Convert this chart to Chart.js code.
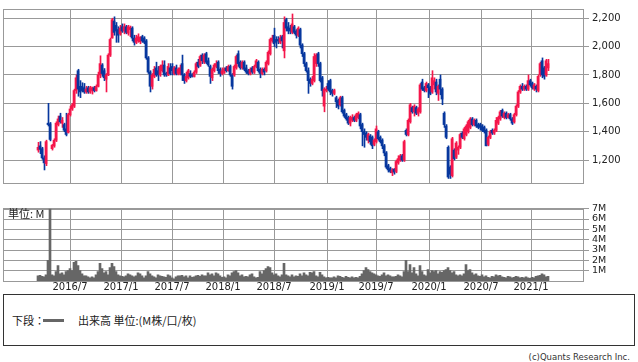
<!DOCTYPE html>
<html lang="ja">
<head>
<meta charset="utf-8">
<title>株価チャート</title>
<script src="https://cdn.jsdelivr.net/npm/chart.js@4.4.1/dist/chart.umd.min.js"></script>
<style>
  html, body { margin: 0; padding: 0; background: #fff; }
  body { width: 638px; height: 362px; position: relative; overflow: hidden; }
  #priceChart { position: absolute; left: 0; top: 0; }
  #volumeChart { position: absolute; left: 0; top: 200px; }
  #legendBox { position: absolute; left: 3px; top: 294px; width: 632px; height: 52px; box-sizing: border-box;
    border: 1px solid #333; font: 11px "Noto Sans CJK JP", sans-serif; color: #222; }
  #legendBox span { position: absolute; top: 17px; line-height: 16px; white-space: nowrap; }
  #legendLine { position: absolute; left: 39px; top: 24px; width: 21px; height: 3px; background: #666; }
  #copyright { position: absolute; right: 8px; top: 351px; font: 8.5px "DejaVu Sans", sans-serif; color: #333; line-height: 12px; }
</style>
</head>
<body>
<canvas id="priceChart" width="638" height="192"></canvas>
<canvas id="volumeChart" width="638" height="94"></canvas>
<div id="legendBox">
  <span style="left:8px">下段：</span>
  <div id="legendLine"></div>
  <span style="left:74px">出来高 単位:(M株/口/枚)</span>
</div>
<div id="copyright">(c)Quants Research Inc.</div>

<script>
// 週足 (2016/3 〜 2021/2)
const openP = [
  1270,1300,1280,1215,1175,1460,1455,1280,1300,1340,
  1450,1510,1460,1450,1420,1395,1520,1560,1580,1690,
  1830,1720,1720,1710,1680,1710,1680,1690,1710,1690,
  1720,1800,1870,1830,1770,1800,1940,2060,2180,2150,
  2120,2090,2140,2110,2140,2095,2120,2130,2060,2030,
  2040,2035,2070,2060,2040,1920,1820,1720,1790,1850,
  1830,1800,1830,1870,1810,1800,1850,1860,1810,1850,
  1810,1810,1880,1800,1760,1780,1810,1800,1790,1820,
  1890,1870,1940,1890,1950,1900,1860,1780,1830,1860,
  1890,1840,1810,1820,1850,1830,1860,1800,1800,1850,
  1950,1890,1850,1890,1850,1830,1810,1850,1820,1860,
  1890,1840,1810,1840,1830,1880,1950,2040,2080,2050,
  2050,2030,2070,1970,2190,2140,2130,2100,2140,2110,
  2080,2120,2010,1950,1880,1830,1770,1740,1760,1880,
  1950,1880,1780,1580,1690,1740,1760,1690,1670,1640,
  1620,1590,1640,1550,1520,1500,1460,1480,1500,1480,
  1500,1520,1450,1400,1390,1340,1370,1360,1310,1330,
  1400,1360,1340,1300,1250,1160,1140,1110,1135,1120,
  1180,1200,1230,1200,1410,1380,1470,1570,1540,1570,
  1530,1540,1750,1710,1690,1730,1710,1680,1730,1750,
  1670,1770,1700,1530,1440,1290,1150,1090,1270,1220,
  1270,1290,1390,1350,1380,1400,1430,1490,1450,1480,
  1450,1450,1440,1430,1410,1310,1360,1410,1390,1410,
  1460,1490,1550,1500,1530,1500,1520,1490,1470,1520,
  1580,1680,1720,1700,1720,1700,1760,1740,1700,1720,
  1690,1800,1900,1850,1800,1850
];
const highP = [
  1325,1330,1290,1230,1340,1600,1465,1310,1350,1470,
  1510,1530,1500,1460,1530,1530,1580,1600,1700,1800,
  1840,1760,1745,1740,1720,1720,1720,1715,1720,1730,
  1820,1935,1880,1845,1810,1950,2060,2200,2210,2170,
  2140,2150,2160,2160,2150,2150,2145,2140,2080,2080,
  2090,2070,2080,2070,2050,1930,1830,1810,1860,1890,
  1860,1870,1900,1900,1820,1880,1880,1880,1860,1870,
  1850,1870,1940,1810,1820,1840,1830,1810,1830,1890,
  1910,1940,1950,1950,1960,1920,1870,1850,1880,1900,
  1900,1850,1850,1850,1860,1870,1870,1810,1870,1940,
  1970,1900,1900,1900,1870,1840,1850,1860,1870,1910,
  1900,1850,1850,1850,1900,1970,2060,2080,2130,2070,
  2070,2080,2080,2210,2200,2170,2150,2230,2150,2120,
  2140,2130,2020,1960,1890,1850,1780,1790,1950,1950,
  1960,1890,1790,1710,1720,1760,1770,1700,1700,1650,
  1630,1650,1650,1560,1530,1510,1510,1520,1510,1530,
  1540,1530,1460,1420,1400,1390,1380,1370,1350,1440,
  1410,1370,1350,1310,1260,1170,1150,1140,1140,1200,
  1230,1240,1240,1340,1420,1490,1600,1580,1590,1580,
  1570,1740,1770,1720,1750,1740,1720,1830,1780,1770,
  1730,1800,1710,1540,1450,1300,1160,1360,1280,1330,
  1300,1390,1400,1430,1450,1480,1500,1500,1490,1490,
  1460,1460,1450,1440,1420,1370,1410,1420,1420,1500,
  1510,1550,1560,1540,1540,1530,1530,1500,1530,1590,
  1690,1730,1740,1730,1730,1800,1770,1750,1740,1730,
  1800,1890,1920,1860,1910,1910
];
const lowP = [
  1255,1245,1205,1130,1160,1440,1335,1270,1290,1330,
  1440,1460,1430,1400,1370,1390,1510,1550,1570,1670,
  1650,1640,1680,1670,1670,1670,1670,1665,1680,1685,
  1715,1780,1790,1760,1680,1795,1930,2060,2080,2030,
  2030,2080,2100,2090,2090,2080,2070,2040,2010,2020,
  2030,2020,2030,2020,1910,1810,1680,1700,1780,1790,
  1760,1790,1820,1790,1790,1795,1800,1800,1800,1800,
  1800,1800,1760,1740,1750,1770,1780,1785,1785,1810,
  1850,1860,1880,1880,1880,1860,1740,1760,1820,1850,
  1810,1790,1800,1810,1820,1825,1790,1700,1790,1840,
  1860,1840,1840,1830,1810,1800,1800,1810,1810,1850,
  1820,1780,1800,1800,1820,1870,1940,2030,2000,1990,
  2020,2020,1990,1920,2110,2090,2090,2090,2090,2060,
  2070,1990,1930,1860,1820,1670,1720,1730,1750,1860,
  1860,1750,1650,1540,1680,1690,1660,1650,1660,1570,
  1560,1580,1530,1500,1480,1450,1440,1470,1470,1470,
  1490,1420,1300,1290,1340,1320,1310,1280,1300,1320,
  1340,1320,1280,1230,1140,1115,1110,1090,1100,1110,
  1170,1190,1190,1190,1370,1370,1460,1530,1510,1520,
  1510,1530,1690,1680,1680,1640,1660,1670,1700,1660,
  1620,1660,1590,1430,1350,1070,1070,1080,1200,1210,
  1240,1280,1350,1340,1370,1390,1420,1440,1440,1430,
  1420,1410,1400,1390,1300,1300,1350,1380,1380,1400,
  1450,1480,1500,1490,1490,1495,1480,1450,1460,1510,
  1570,1670,1690,1690,1690,1690,1720,1700,1690,1680,
  1680,1790,1780,1770,1790,1830
];
const closeP = [
  1290,1275,1215,1180,1330,1450,1345,1305,1340,1460,
  1490,1470,1480,1410,1380,1520,1560,1590,1690,1780,
  1700,1680,1690,1680,1700,1680,1710,1710,1690,1720,
  1800,1880,1810,1780,1800,1940,2050,2190,2100,2110,
  2080,2130,2110,2140,2100,2140,2135,2060,2030,2060,
  2070,2065,2040,2030,1920,1820,1720,1800,1840,1800,
  1800,1860,1870,1800,1800,1860,1810,1830,1850,1810,
  1840,1850,1800,1760,1790,1830,1790,1790,1820,1880,
  1860,1930,1900,1940,1890,1870,1790,1840,1870,1880,
  1830,1810,1830,1840,1830,1860,1800,1720,1860,1930,
  1880,1850,1890,1840,1820,1810,1840,1820,1860,1900,
  1830,1810,1840,1820,1890,1960,2050,2060,2020,2030,
  2040,2060,2040,2170,2130,2110,2110,2160,2100,2080,
  2130,2010,1950,1880,1830,1760,1740,1770,1930,1940,
  1880,1760,1690,1700,1700,1700,1680,1670,1690,1610,
  1580,1640,1540,1510,1490,1460,1500,1500,1480,1520,
  1530,1440,1400,1380,1360,1380,1330,1300,1340,1420,
  1350,1330,1300,1250,1150,1130,1120,1130,1115,1190,
  1210,1230,1200,1330,1380,1480,1590,1540,1580,1530,
  1560,1730,1700,1690,1740,1710,1670,1780,1760,1680,
  1720,1700,1630,1450,1360,1080,1100,1350,1210,1320,
  1290,1380,1360,1420,1440,1470,1490,1450,1480,1440,
  1430,1430,1410,1400,1300,1360,1400,1390,1410,1480,
  1500,1540,1510,1530,1500,1520,1490,1460,1520,1580,
  1680,1720,1700,1720,1700,1760,1730,1710,1730,1700,
  1790,1880,1800,1790,1900,1880
];
// 出来高 (M株)
const volume = [
  0.5,0.55,0.45,0.4,0.6,2.0,7.0,0.6,0.5,0.9,
  1.5,0.7,0.8,0.6,0.9,1.0,1.2,1.0,1.8,1.9,
  1.5,1.0,0.7,0.5,0.5,0.4,0.3,0.4,0.3,0.6,
  0.9,1.7,1.2,0.8,0.9,0.6,1.3,1.7,1.4,0.9,
  0.6,0.5,0.45,0.4,0.5,0.7,0.6,0.5,0.4,0.5,
  0.8,0.7,0.5,0.3,0.5,0.9,0.7,0.5,0.4,0.3,
  0.6,0.5,0.45,0.4,0.35,0.6,0.5,0.3,0.2,0.4,
  0.5,0.5,0.55,0.4,0.5,0.3,0.5,0.35,0.4,0.5,
  0.55,0.45,0.6,0.5,0.5,0.8,0.6,0.7,0.5,0.8,
  0.7,0.5,0.35,0.4,0.3,0.6,0.5,0.8,0.9,1.0,
  0.8,0.5,0.6,0.4,0.45,0.4,0.6,0.7,0.4,0.3,
  0.35,0.9,0.7,1.0,1.2,1.4,1.3,0.8,0.6,0.7,
  0.5,0.4,0.6,1.7,0.6,0.5,0.4,0.6,0.4,0.5,
  0.45,0.7,0.5,0.8,0.6,0.5,0.85,0.8,0.9,0.5,
  0.4,0.85,0.6,0.4,0.3,0.35,0.3,0.3,0.4,0.3,
  0.5,0.45,0.35,0.3,0.45,0.35,0.3,0.4,0.3,0.35,
  0.3,0.45,0.7,1.0,1.3,1.1,0.9,0.8,0.7,0.6,
  0.5,0.45,0.6,0.8,0.5,0.6,0.5,0.4,0.4,0.45,
  0.6,0.5,0.4,0.9,2.0,0.9,1.6,0.8,1.3,0.7,
  0.5,1.5,0.9,0.6,0.5,1.1,0.8,1.0,0.9,1.0,
  0.7,0.9,0.85,1.0,1.1,1.3,1.0,0.8,0.9,0.6,
  0.5,0.6,0.5,0.7,1.6,1.0,1.1,0.8,0.6,0.7,
  0.5,0.45,0.6,0.4,0.5,0.35,0.3,0.45,0.4,0.6,
  0.5,0.55,0.4,0.35,0.3,0.45,0.4,0.3,0.35,0.45,
  0.4,0.3,0.35,0.3,0.4,0.3,0.25,0.35,0.3,0.45,
  0.5,0.55,0.7,0.6,0.4,0.45
];

// 目盛り (週の番号で位置を指定)
const xTickPos = [16, 41.5, 67, 92.5, 118, 144.5, 169, 195.5, 221.5, 246.5];
const xTickLabels = ['2016/7', '2017/1', '2017/7', '2018/1', '2018/7', '2019/1', '2019/7', '2020/1', '2020/7', '2021/1'];
const priceTicks = [1200, 1400, 1600, 1800, 2000, 2200];
const volumeTicks = [1, 2, 3, 4, 5, 6, 7];

const UP = '#f5164b';
const DOWN = '#07379e';
const GRID = '#999999';
const VOL = '#666666';
const TEXT = '#222222';

const idx = closeP.map((_, i) => i);
const candleColors = closeP.map((c, i) => (c >= openP[i] ? UP : DOWN));

// プロット領域の枠線
const framePlugin = {
  id: 'frame',
  beforeDatasetsDraw(chart) {
    const a = chart.chartArea;
    const ctx = chart.ctx;
    const l = Math.round(a.left) + 0.5, t = Math.round(a.top) + 0.5;
    const r = Math.round(a.right) + 0.5, b = Math.round(a.bottom) + 0.5;
    ctx.save();
    ctx.strokeStyle = GRID;
    ctx.lineWidth = 1;
    ctx.strokeRect(l, t, r - l, b - t);
    ctx.restore();
  }
};

// 下段左上の「単位: M」
const unitLabelPlugin = {
  id: 'unitLabel',
  afterDraw(chart) {
    const a = chart.chartArea;
    const ctx = chart.ctx;
    ctx.save();
    ctx.font = '11px "Noto Sans CJK JP"';
    ctx.fillStyle = TEXT;
    ctx.textBaseline = 'middle';
    ctx.fillText('単位: M', a.left + 5, a.top + 5);
    ctx.restore();
  }
};

function xScale(showLabels) {
  return {
    type: 'linear',
    offset: false,
    min: -17.5,
    max: 272.5,
    afterBuildTicks: (axis) => { axis.ticks = xTickPos.map((v) => ({ value: v })); },
    afterFit: (axis) => { axis.height = showLabels ? 13 : 0; },
    grid: { color: GRID, drawTicks: false, offset: false },
    border: { display: false },
    ticks: {
      display: showLabels,
      autoSkip: false,
      maxRotation: 0,
      padding: 0,
      color: TEXT,
      font: { family: 'DejaVu Sans', size: 10 },
      callback: (v, i) => xTickLabels[i]
    }
  };
}

function yScale(min, max, tickValues, fontSize, fmt) {
  return {
    position: 'right',
    min: min,
    max: max,
    afterBuildTicks: (axis) => { axis.ticks = tickValues.map((v) => ({ value: v })); },
    afterFit: (axis) => { axis.width = 55; },
    grid: { color: GRID, tickLength: 6 },
    border: { display: false },
    ticks: { autoSkip: false, padding: 3, color: TEXT, font: { family: 'DejaVu Sans', size: fontSize }, callback: fmt }
  };
}

// 上段: ローソク足
new Chart(document.getElementById('priceChart'), {
  type: 'bar',
  data: {
    datasets: [
      {
        data: idx.map((i) => ({ x: i, y: [openP[i], closeP[i]] })),
        backgroundColor: candleColors,
        barThickness: 2,
        grouped: false
      },
      {
        data: idx.map((i) => ({ x: i, y: [lowP[i], highP[i]] })),
        backgroundColor: candleColors,
        barThickness: 1,
        grouped: false,
        xAxisID: 'xWick'
      }
    ]
  },
  options: {
    responsive: false,
    animation: false,
    layout: { padding: { left: 3, top: 1, right: 0, bottom: 2 } },
    plugins: { legend: { display: false }, tooltip: { enabled: false } },
    scales: {
      x: xScale(false),
      xWick: { type: 'linear', offset: false, min: -17.75, max: 272.25, display: false },
      y: yScale(1038, 2265, priceTicks, 10, (v) => v.toLocaleString('en-US'))
    }
  },
  plugins: [framePlugin]
});

// 下段: 出来高
new Chart(document.getElementById('volumeChart'), {
  type: 'bar',
  data: {
    datasets: [{
      data: idx.map((i) => ({ x: i, y: volume[i] })),
      backgroundColor: VOL,
      barThickness: 2
    }]
  },
  options: {
    responsive: false,
    animation: false,
    layout: { padding: { left: 3, top: 6, right: 0, bottom: 0 } },
    plugins: { legend: { display: false }, tooltip: { enabled: false } },
    scales: {
      x: xScale(true),
      y: yScale(0, 7, volumeTicks, 9.5, (v) => v + 'M')
    }
  },
  plugins: [framePlugin, unitLabelPlugin]
});
</script>
</body>
</html>
